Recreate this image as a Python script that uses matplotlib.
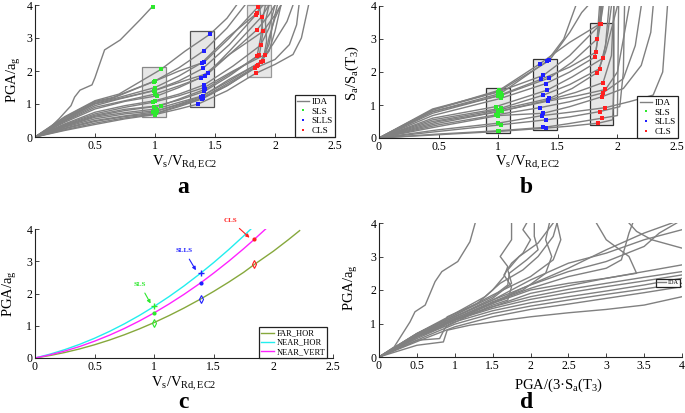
import matplotlib
matplotlib.use('Agg')
import matplotlib.pyplot as plt
from matplotlib.patches import Rectangle
from matplotlib.lines import Line2D

plt.rcParams['font.family'] = ['Liberation Serif', 'DejaVu Serif']
plt.rcParams['mathtext.fontset'] = 'custom'
plt.rcParams['mathtext.rm'] = 'Liberation Serif'
plt.rcParams['mathtext.it'] = 'Liberation Serif:italic'
plt.rcParams['mathtext.bf'] = 'Liberation Serif:bold'

# ---------------- data ----------------
# panel a : IDA curves (x = Vs/VRd,EC2, y = PGA/ag)
a_curves = [
    [(0,0),(0.25,0.2),(0.5,0.38),(0.75,0.55),(1.0,0.68),(1.2,0.85),(1.36,1.0),(1.6,1.4),(1.84,1.93),(2.0,2.2),(2.15,2.5),(2.22,3.0),(2.25,3.5),(2.28,4.0)],
    [(0,0),(0.25,0.22),(0.5,0.42),(0.75,0.58),(1.0,0.70),(1.2,0.92),(1.39,1.15),(1.6,1.55),(1.83,2.08),(2.0,2.35),(2.12,2.8),(2.18,3.4),(2.2,4.0)],
    [(0,0),(0.25,0.25),(0.5,0.47),(0.75,0.62),(1.01,0.72),(1.2,0.95),(1.4,1.18),(1.62,1.6),(1.85,2.15),(1.98,2.8),(2.1,3.5),(2.15,4.0)],
    [(0,0),(0.25,0.27),(0.5,0.5),(0.75,0.64),(0.98,0.75),(1.2,0.98),(1.4,1.2),(1.62,1.65),(1.86,2.18),(1.95,2.6),(2.0,3.2),(2.05,4.0)],
    [(0,0),(0.25,0.3),(0.5,0.55),(0.75,0.7),(1.02,0.8),(1.2,1.0),(1.38,1.22),(1.62,1.7),(1.88,2.28),(1.95,2.8),(1.98,3.4),(2.02,4.0)],
    [(0,0),(0.25,0.32),(0.5,0.6),(0.75,0.74),(1.01,0.85),(1.2,1.05),(1.4,1.25),(1.62,1.75),(1.9,2.3),(1.93,2.9),(1.92,3.5),(1.95,4.0)],
    [(0,0),(0.25,0.34),(0.5,0.63),(0.75,0.8),(0.99,0.92),(1.2,1.12),(1.41,1.38),(1.62,1.85),(1.85,2.45),(1.88,3.0),(1.9,3.6),(1.92,4.0)],
    [(0,0),(0.25,0.36),(0.5,0.66),(0.75,0.84),(1.05,0.95),(1.2,1.15),(1.42,1.45),(1.62,1.9),(1.87,2.48),(1.9,3.2),(1.88,3.7),(1.87,4.0)],
    [(0,0),(0.25,0.38),(0.5,0.7),(0.75,0.9),(0.98,1.05),(1.2,1.25),(1.41,1.5),(1.65,2.0),(1.92,2.5),(1.95,3.0),(2.0,3.6),(2.05,4.0)],
    [(0,0),(0.25,0.4),(0.5,0.75),(0.75,0.95),(1.0,1.1),(1.2,1.3),(1.41,1.58),(1.65,2.15),(1.88,2.78),(1.95,3.3),(2.0,4.0)],
    [(0,0),(0.25,0.45),(0.5,0.85),(0.75,1.08),(1.02,1.25),(1.2,1.5),(1.38,1.8),(1.62,2.5),(1.9,3.2),(2.0,3.7),(2.05,4.0)],
    [(0,0),(0.25,0.48),(0.5,0.9),(0.75,1.1),(1.0,1.3),(1.2,1.55),(1.42,1.85),(1.62,2.5),(1.85,3.25),(1.95,3.7),(2.0,4.0)],
    [(0,0),(0.25,0.5),(0.5,0.95),(0.7,1.15),(0.99,1.4),(1.2,1.65),(1.44,1.93),(1.62,2.6),(1.89,3.65),(1.95,4.0)],
    [(0,0),(0.25,0.52),(0.5,1.0),(0.65,1.12),(1.0,1.42),(1.2,1.7),(1.4,2.08),(1.62,2.8),(1.84,3.7),(1.9,4.0)],
    [(0,0),(0.25,0.55),(0.5,1.02),(0.65,1.15),(1.0,1.5),(1.2,1.85),(1.39,2.25),(1.6,3.0),(1.85,3.75),(1.88,4.0)],
    [(0,0),(0.25,0.57),(0.5,1.05),(0.65,1.18),(0.99,1.68),(1.2,2.0),(1.41,2.27),(1.62,3.0),(1.86,3.95),(1.87,4.0)],
    [(0,0),(0.25,0.6),(0.5,1.08),(0.65,1.2),(1.0,1.7),(1.2,2.1),(1.41,2.62),(1.6,3.3),(1.75,4.0)],
    [(0,0),(0.25,0.62),(0.5,1.1),(0.7,1.3),(1.05,2.05),(1.25,2.6),(1.46,3.12),(1.6,3.6),(1.68,4.0)],
    [(0,0),(0.1,0.2),(0.2,0.55),(0.3,0.95),(0.33,1.21),(0.375,1.42),(0.475,1.58),(0.5,1.8),(0.53,2.12),(0.58,2.64),(0.71,2.94),(0.875,3.55),(0.975,3.94)],
]
a_sls_x = [1.0,1.0,1.01,0.98,1.02,1.01,0.99,1.05,0.98,1.0,1.02,1.0,0.99,1.0,1.0,0.99,1.0,1.05,0.98]
a_sls_y = [0.68,0.70,0.72,0.75,0.80,0.85,0.92,0.95,1.05,1.10,1.25,1.30,1.40,1.42,1.50,1.68,1.70,2.05,3.93]
a_slls_x = [1.36,1.39,1.40,1.40,1.38,1.40,1.41,1.42,1.41,1.41,1.38,1.42,1.44,1.40,1.39,1.41,1.41,1.46]
a_slls_y = [1.0,1.15,1.18,1.2,1.22,1.25,1.38,1.45,1.5,1.58,1.8,1.85,1.93,2.08,2.25,2.27,2.62,3.12]
a_cls_x = [1.84,1.83,1.85,1.86,1.88,1.90,1.85,1.87,1.92,1.88,1.90,1.85,1.89,1.84,1.85,1.86]
a_cls_y = [1.93,2.08,2.15,2.18,2.28,2.30,2.45,2.48,2.50,2.78,3.20,3.25,3.65,3.70,3.75,3.95]

# panel b : IDA curves (y = Sa/Sa(T3))
b_curves = [
    [(0,0),(0.5,0.1),(1.01,0.2),(1.4,0.3),(1.6,0.36),(1.84,0.45),(1.96,0.55),(1.97,1.5),(1.97,4.0)],
    [(0,0),(0.5,0.12),(1.0,0.22),(1.38,0.32),(1.6,0.44),(1.87,0.6),(2.0,0.68),(2.01,4.0)],
    [(0,0),(0.5,0.2),(1.02,0.4),(1.4,0.55),(1.6,0.64),(1.85,0.8),(2.02,0.95),(2.05,2.0),(2.06,4.0)],
    [(0,0),(0.5,0.25),(1.0,0.45),(1.37,0.68),(1.6,0.78),(1.9,0.92),(2.1,1.1),(2.3,1.3),(2.38,2.0),(2.42,4.0)],
    [(0,0),(0.5,0.35),(1.0,0.68),(1.38,0.75),(1.6,0.95),(1.87,1.25),(2.05,1.5),(2.2,2.2),(2.28,3.2),(2.3,4.0)],
    [(0,0),(0.5,0.4),(0.98,0.7),(1.35,0.92),(1.6,1.1),(1.88,1.37),(2.05,1.8),(2.15,2.8),(2.2,4.0)],
    [(0,0),(0.5,0.45),(1.0,0.8),(1.42,1.12),(1.65,1.27),(1.9,1.47),(2.0,2.0),(2.05,3.0),(2.1,4.0)],
    [(0,0),(0.5,0.5),(1.03,0.82),(1.42,1.15),(1.65,1.38),(1.88,1.68),(1.95,2.5),(1.97,4.0)],
    [(0,0),(0.45,0.5),(1.0,0.85),(1.43,1.2),(1.62,1.5),(1.83,1.98),(1.9,2.6),(1.95,3.3),(2.0,4.0)],
    [(0,0),(0.45,0.55),(1.02,0.9),(1.38,1.3),(1.6,1.62),(1.85,2.1),(1.9,2.8),(1.93,4.0)],
    [(0,0),(0.45,0.6),(0.98,0.95),(1.41,1.45),(1.62,1.85),(1.88,2.42),(1.92,3.2),(1.95,4.0)],
    [(0,0),(0.45,0.68),(1.02,1.2),(1.4,1.65),(1.6,2.0),(1.81,2.45),(1.85,3.3),(1.88,4.0)],
    [(0,0),(0.45,0.75),(1.0,1.28),(1.36,1.78),(1.6,2.15),(1.82,2.6),(1.85,3.5),(1.87,4.0)],
    [(0,0),(0.45,0.8),(1.03,1.3),(1.43,1.82),(1.62,2.3),(1.83,3.0),(1.85,4.0)],
    [(0,0),(0.45,0.85),(1.0,1.4),(1.38,1.9),(1.6,2.5),(1.86,3.45),(1.87,4.0)],
    [(0,0),(0.45,0.85),(1.01,1.45),(1.35,2.25),(1.6,2.9),(1.85,3.45),(1.86,4.0)],
    [(0,0),(0.45,0.88),(1.0,1.4),(1.43,2.35),(1.6,3.2),(1.7,3.8),(1.75,4.0)],
    [(0,0),(0.45,0.8),(1.02,1.35),(1.41,2.33),(1.55,3.0),(1.65,4.0)],
]
b_sls_x = [1.01,1.0,1.02,1.0,1.0,0.98,1.0,1.03,1.0,1.02,0.98,1.02,1.0,1.03,1.0,1.01,1.0,1.02]
b_sls_y = [0.2,0.22,0.4,0.45,0.68,0.7,0.8,0.82,0.85,0.9,0.95,1.2,1.28,1.3,1.4,1.45,1.4,1.35]
b_slls_x = [1.4,1.38,1.4,1.37,1.38,1.35,1.42,1.42,1.43,1.38,1.41,1.4,1.36,1.43,1.38,1.35,1.43,1.41]
b_slls_y = [0.3,0.32,0.55,0.68,0.75,0.92,1.12,1.15,1.2,1.3,1.45,1.65,1.78,1.82,1.9,2.25,2.35,2.33]
b_cls_x = [1.84,1.87,1.85,1.9,1.87,1.88,1.9,1.88,1.83,1.85,1.88,1.81,1.82,1.83,1.86,1.85]
b_cls_y = [0.45,0.6,0.8,0.92,1.25,1.37,1.47,1.68,1.98,2.1,2.42,2.45,2.6,3.0,3.45,3.45]

# panel c : fitted curves
c_far_x = [0,0.125,0.25,0.375,0.5,0.625,0.75,0.875,1.0,1.125,1.25,1.39,1.5,1.625,1.75,1.84,2.0,2.125,2.22]
c_far_y = [0,0.077,0.171,0.282,0.411,0.557,0.721,0.902,1.1,1.316,1.549,1.83,2.067,2.352,2.655,2.9,3.312,3.667,3.95]
c_nhor_x = [0,0.125,0.25,0.375,0.5,0.625,0.75,0.875,1.0,1.125,1.25,1.39,1.5,1.625,1.75,1.81]
c_nhor_y = [0,0.118,0.26,0.424,0.613,0.825,1.06,1.318,1.6,1.905,2.234,2.63,2.962,3.361,3.783,3.994]
c_nver_x = [0,0.125,0.25,0.375,0.5,0.625,0.75,0.875,1.0,1.125,1.25,1.39,1.5,1.625,1.75,1.84,1.935]
c_nver_y = [0,0.097,0.216,0.357,0.522,0.708,0.916,1.147,1.4,1.676,1.973,2.33,2.636,3.0,3.387,3.68,4.0]
c_levels = ['SLS', 'SLLS', 'CLS']
c_level_x = [1.0, 1.39, 1.84]

# panel d : IDA curves (x = PGA/(3 Sa(T3)), y = PGA/ag)
d_curves = [
    [(0,0),(0.2,0.3),(0.41,1.05),(0.475,1.35),(0.61,1.55),(0.74,2.25),(0.83,2.55),(1.04,2.85),(1.2,3.44),(1.27,4.0)],
    [(0,0),(0.5,0.35),(0.85,0.45),(0.9,0.8),(1.2,0.95),(1.6,1.08),(2.0,1.2),(2.5,1.32),(3.0,1.42),(3.5,1.55),(4.0,1.8)],
    [(0,0),(0.6,0.55),(1.0,0.9),(1.5,1.2),(2.0,1.42),(2.5,1.58),(3.0,1.75),(3.5,1.92),(4.0,2.1)],
    [(0,0),(0.6,0.6),(1.0,0.98),(1.5,1.3),(2.0,1.52),(2.5,1.7),(3.0,1.87),(3.5,2.03),(4.0,2.2)],
    [(0,0),(0.5,0.55),(1.0,1.05),(1.5,1.38),(2.0,1.62),(2.5,1.8),(3.0,1.97),(3.5,2.15),(4.0,2.35)],
    [(0,0),(0.5,0.6),(1.0,1.1),(1.5,1.45),(2.0,1.72),(2.5,1.92),(3.0,2.1),(3.5,2.27),(4.0,2.45)],
    [(0,0),(0.5,0.62),(1.0,1.12),(1.5,1.5),(2.0,1.8),(2.5,2.02),(3.0,2.2),(3.5,2.38),(4.0,2.55)],
    [(0,0),(0.5,0.5),(0.8,0.55),(0.88,0.9),(1.2,1.25),(1.5,1.55),(1.7,1.7),(1.75,2.1),(1.65,2.45),(1.75,2.8),(1.9,3.1),(2.0,3.5),(1.9,3.8),(1.95,4.0)],
    [(0,0),(0.5,0.6),(0.85,0.9),(0.9,1.2),(1.3,1.6),(1.5,2.0),(1.65,2.4),(1.7,2.7),(1.6,3.0),(1.75,3.5),(1.75,4.0)],
    [(0,0),(0.5,0.7),(1.0,1.3),(1.4,1.8),(1.6,2.2),(1.9,2.6),(2.1,3.0),(2.3,3.6),(2.35,4.0)],
    [(0,0),(0.5,0.65),(1.0,1.2),(1.5,1.75),(1.75,2.2),(1.7,2.6),(1.85,3.0),(2.1,3.4),(2.2,3.7),(2.3,4.0)],
    [(0,0),(0.5,0.62),(1.0,1.15),(1.5,1.65),(1.9,2.0),(2.2,2.5),(2.28,3.0),(2.2,3.5),(2.25,4.0)],
    [(0,0),(0.5,0.7),(1.0,1.25),(1.5,1.8),(1.7,2.15),(1.72,2.5),(1.95,2.9),(2.1,3.2),(2.05,3.6),(2.05,4.0)],
    [(0,0),(0.5,0.62),(1.0,1.15),(1.5,1.62),(2.0,2.05),(2.5,2.4),(3.0,2.65),(3.2,2.9),(3.25,3.3),(3.3,3.7),(3.35,4.0)],
    [(0,0),(0.5,0.68),(1.0,1.2),(1.5,1.7),(2.0,2.15),(2.5,2.55),(3.0,2.85),(3.5,3.3),(3.7,3.7),(3.93,4.0)],
    [(0,0),(0.5,0.62),(1.0,1.1),(1.5,1.6),(1.88,2.04),(2.5,2.65),(3.0,3.2),(3.5,3.7),(3.93,4.05)],
    [(0,0),(0.5,0.6),(1.0,1.1),(1.5,1.5),(2.0,1.9),(3.0,2.35),(4.0,2.75),(4.5,3.0),(4.0,3.25),(3.6,3.5),(3.4,3.75),(3.3,4.0)],
    [(0,0),(0.5,0.6),(1.0,1.1),(1.5,1.6),(2.0,2.0),(2.5,2.2),(3.0,2.35),(3.4,2.5),(3.3,3.0),(3.0,3.5),(2.87,4.0)],
    [(0,0),(0.5,0.65),(1.0,1.2),(1.5,1.7),(2.0,2.3),(2.5,2.8),(3.0,3.1),(3.5,3.5),(4.0,3.8),(4.3,4.0)],
    [(0,0),(0.5,0.7),(1.0,1.25),(1.5,1.85),(2.0,2.4),(2.3,2.9),(2.4,3.5),(2.35,4.0)],
]

# ---------------- style ----------------
GRAY = '#808080'
GREEN = '#2ee82e'
BLUE = '#1f1fff'
RED = '#ff2020'
FIG_W, FIG_H = 685, 413

fig = plt.figure(figsize=(6.85, 4.13), dpi=100)

def make_ax(l, r, t, b):
    return fig.add_axes([l / FIG_W, 1 - b / FIG_H, (r - l) / FIG_W, (b - t) / FIG_H])

def style(ax, xlim, ylim, xticks, xlabels, yticks):
    ax.set_xlim(*xlim)
    ax.set_ylim(*ylim)
    ax.set_xticks(xticks)
    ax.set_xticklabels(xlabels)
    ax.set_yticks(yticks)
    ax.set_yticklabels([str(v) for v in yticks])
    for s in ['top', 'right']:
        ax.spines[s].set_visible(False)
    for s in ['left', 'bottom']:
        ax.spines[s].set_linewidth(0.8)
        ax.spines[s].set_color('#222222')
    ax.tick_params(direction='in', length=3, width=0.6, labelsize=8.5, pad=2, colors='#222222')
    ax.tick_params(labelcolor='black')

def ftext(x, y, s, **kw):
    fig.text(x / FIG_W, 1 - y / FIG_H, s, **kw)

def plot_curves(ax, curves):
    for c in curves:
        ax.plot([p[0] for p in c], [p[1] for p in c], color=GRAY, lw=1.0, zorder=2)

mk = dict(marker='s', ms=2.6, ls='none', mew=0, zorder=4)
mk_leg = dict(marker='s', ms=2.0, ls='none', mew=0)

def ida_legend(ax, fs, anchor, with_ls=True):
    h = [Line2D([], [], color=GRAY, lw=1.0)]
    labs = ['IDA']
    if with_ls:
        h += [Line2D([], [], color=GREEN, **mk_leg),
              Line2D([], [], color=BLUE, **mk_leg),
              Line2D([], [], color=RED, **mk_leg)]
        labs += ['SLS', 'SLLS', 'CLS']
    leg = ax.legend(h, labs, loc='lower right', bbox_to_anchor=anchor, fontsize=fs,
                    frameon=True, fancybox=False, edgecolor='#222222', framealpha=1,
                    borderaxespad=0, borderpad=0.25, labelspacing=0.12,
                    handlelength=1.3, handletextpad=0.3)
    leg.get_frame().set_linewidth(0.9)
    leg.set_zorder(10)
    return leg

# ---------------- panel a ----------------
ax = make_ax(35, 335, 5, 137)
style(ax, (0, 2.5), (0, 4), [0.5, 1, 1.5, 2, 2.5], ['0.5', '1', '1.5', '2', '2.5'], [0, 1, 2, 3, 4])
ax.add_patch(Rectangle((0.895, 0.6), 0.2, 1.51, fc='#e6e6e6', ec='#888888', lw=0.9, zorder=1))
ax.add_patch(Rectangle((1.29, 0.9), 0.2, 2.32, fc='#e6e6e6', ec='#555555', lw=0.9, zorder=1))
ax.add_patch(Rectangle((1.77, 1.81), 0.2, 2.19, fc='#e6e6e6', ec='#999999', lw=0.9, zorder=1, clip_on=False))
plot_curves(ax, a_curves)
ax.plot(a_sls_x, a_sls_y, color=GREEN, **mk)
ax.plot(a_slls_x, a_slls_y, color=BLUE, **mk)
ax.plot(a_cls_x, a_cls_y, color=RED, **mk)
ida_legend(ax, 6.6, (1.0, 0.0))
ftext(14, 80, r'$\mathregular{PGA/a_g}$', rotation=90, ha='center', va='center', fontsize=10.5)
ftext(185, 163, r'$\mathregular{V_s/V_{Rd,EC2}}$', ha='center', va='center', fontsize=10.5)
ftext(183, 193, 'a', ha='center', va='baseline', fontsize=17, fontweight='bold')

# ---------------- panel b ----------------
ax = make_ax(379, 677, 6, 138)
style(ax, (0, 2.5), (0, 4), [0, 0.5, 1, 1.5, 2, 2.5], ['0', '0.5', '1', '1.5', '2', '2.5'], [0, 1, 2, 3, 4])
ax.add_patch(Rectangle((0.895, 0.15), 0.2, 1.36, fc='#e6e6e6', ec='#333333', lw=0.9, zorder=1))
ax.add_patch(Rectangle((1.295, 0.24), 0.2, 2.15, fc='#e6e6e6', ec='#333333', lw=0.9, zorder=1))
ax.add_patch(Rectangle((1.77, 0.39), 0.19, 3.1, fc='#e6e6e6', ec='#333333', lw=0.9, zorder=1))
plot_curves(ax, b_curves)
ax.plot(b_sls_x, b_sls_y, color=GREEN, **mk)
ax.plot(b_slls_x, b_slls_y, color=BLUE, **mk)
ax.plot(b_cls_x, b_cls_y, color=RED, **mk)
ida_legend(ax, 6.6, (1.003, 0.0))
ftext(352, 73, r'$\mathregular{S_a/S_a(T_3)}$', rotation=90, ha='center', va='center', fontsize=10.5)
ftext(528, 163, r'$\mathregular{V_s/V_{Rd,EC2}}$', ha='center', va='center', fontsize=10.5)
ftext(526, 193, 'b', ha='center', va='baseline', fontsize=17, fontweight='bold')

# ---------------- panel c ----------------
ax = make_ax(35, 333, 229, 358)
style(ax, (0, 2.5), (0, 4), [0, 0.5, 1, 1.5, 2, 2.5], ['0', '0.5', '1', '1.5', '2', '2.5'], [0, 1, 2, 3, 4])
OLIVE = '#86a83c'
CYAN = '#22eeee'
MAG = '#ff22ff'
l1, = ax.plot(c_far_x, c_far_y, color=OLIVE, lw=1.0)
l2, = ax.plot(c_nhor_x, c_nhor_y, color=CYAN, lw=1.0)
l3, = ax.plot(c_nver_x, c_nver_y, color=MAG, lw=1.0)
ls_cols = [GREEN, BLUE, RED]
for i, (lx, col) in enumerate(zip(c_level_x, ls_cols)):
    if lx in c_nhor_x and i < 2:
        ax.plot(lx, c_nhor_y[c_nhor_x.index(lx)], marker='+', color=col, ms=4, mew=1, zorder=5)
    ax.plot(lx, c_nver_y[c_nver_x.index(lx)], marker='o', color=col, ms=3, mew=0, zorder=5)
    ax.plot(lx, c_far_y[c_far_x.index(lx)], marker='d', mfc='none', mec=col, ms=4, mew=0.8, zorder=5)
ann = dict(fontsize=5, fontweight='bold', ha='center', va='center')
ax.annotate(c_levels[0], xy=(0.97, 1.69), xytext=(0.88, 2.29), color=GREEN,
            arrowprops=dict(arrowstyle='-|>', color=GREEN, lw=0.8, mutation_scale=5, shrinkA=3, shrinkB=0), **ann)
ax.annotate(c_levels[1], xy=(1.35, 2.72), xytext=(1.25, 3.34), color=BLUE,
            arrowprops=dict(arrowstyle='-|>', color=BLUE, lw=0.8, mutation_scale=5, shrinkA=3, shrinkB=0), **ann)
ax.annotate(c_levels[2], xy=(1.8, 3.73), xytext=(1.64, 4.27), color=RED, annotation_clip=False,
            arrowprops=dict(arrowstyle='-|>', color=RED, lw=0.8, mutation_scale=5, shrinkA=3, shrinkB=0), **ann)
leg = ax.legend([l1, l2, l3], ['FAR_HOR', 'NEAR_HOR', 'NEAR_VERT'], loc='lower right',
                bbox_to_anchor=(0.98, 0.0), fontsize=6, frameon=True, fancybox=False,
                edgecolor='#222222', framealpha=1, borderaxespad=0, borderpad=0.25,
                labelspacing=0.15, handlelength=1.5, handletextpad=0.3)
leg.get_frame().set_linewidth(0.9)
ftext(10, 294, r'$\mathregular{PGA/a_g}$', rotation=90, ha='center', va='center', fontsize=10.5)
ftext(184, 384, r'$\mathregular{V_s/V_{Rd,EC2}}$', ha='center', va='center', fontsize=10.5)
ftext(183, 408, 'c', ha='center', va='baseline', fontsize=17, fontweight='bold')

# ---------------- panel d ----------------
ax = make_ax(379, 682, 223, 357)
style(ax, (0, 4), (0, 4), [0, 0.5, 1, 1.5, 2, 2.5, 3, 3.5, 4],
      ['0', '0.5', '1', '1.5', '2', '2.5', '3', '3.5', '4'], [0, 1, 2, 3, 4])
plot_curves(ax, d_curves)
ida_legend(ax, 4.5, ((680 - 379) / 303, (357 - 287) / 134), with_ls=False)
ftext(351, 288, r'$\mathregular{PGA/a_g}$', rotation=90, ha='center', va='center', fontsize=10.5)
ftext(559, 385, r'$\mathregular{PGA/(3·S_a(T_3)}$', ha='center', va='center', fontsize=10.5)
ftext(527, 408, 'd', ha='center', va='baseline', fontsize=17, fontweight='bold')

fig.savefig('out.png', dpi=100)
